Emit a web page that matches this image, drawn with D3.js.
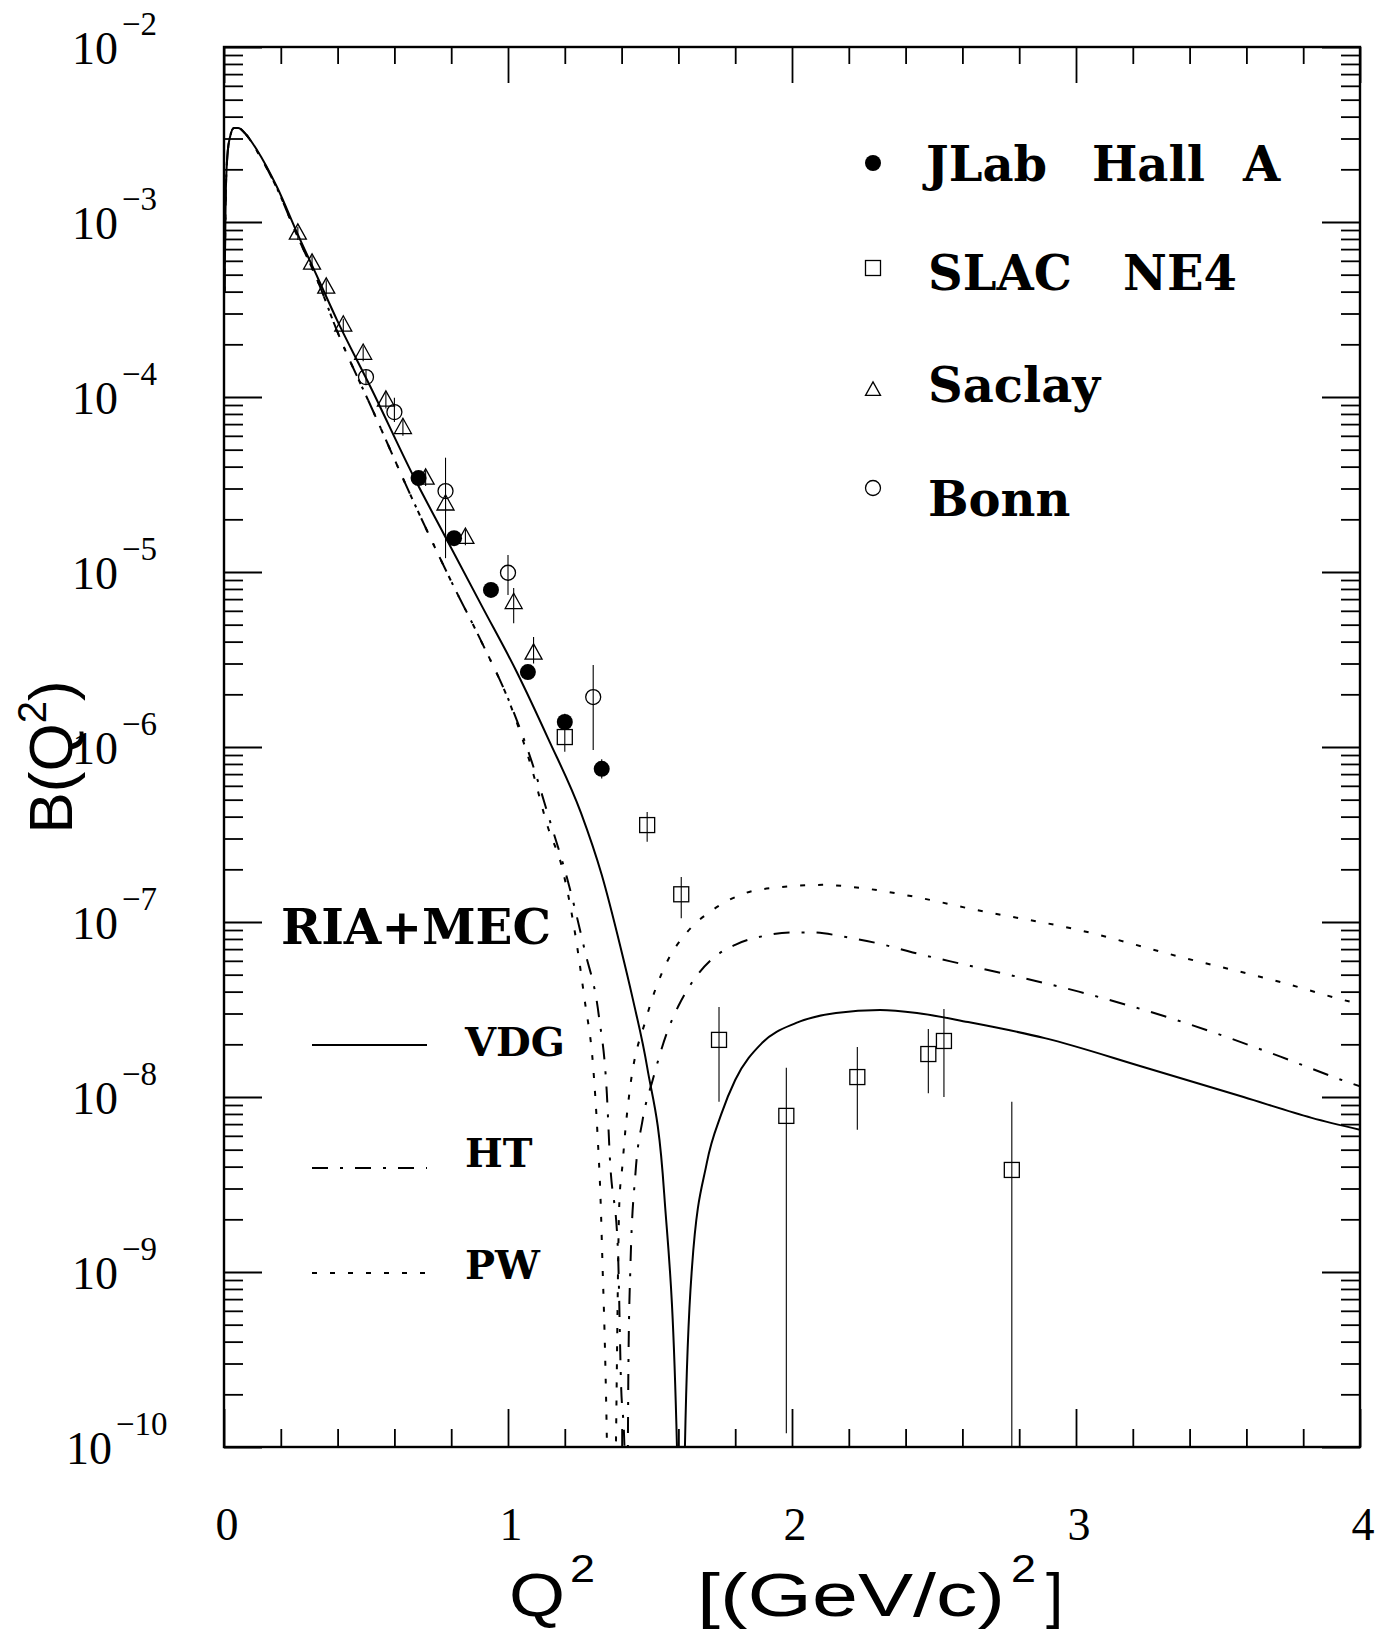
<!DOCTYPE html>
<html>
<head>
<meta charset="utf-8">
<script src="https://cdn.jsdelivr.net/npm/d3@7"></script>
<style>
  body { margin: 0; background: #fff; }
</style>
</head>
<body>
<div id="chart"></div>
<script>
// ---- data ----
const X_TICKS = [0, 1, 2, 3, 4];
const Y_EXPONENTS = [-2, -3, -4, -5, -6, -7, -8, -9, -10];

// JLab Hall A (filled circles)
const JLAB_Q2 = [0.685, 0.81, 0.94, 1.07, 1.20, 1.33];
const JLAB_B  = [3.44e-5, 1.56e-5, 7.9e-6, 2.68e-6, 1.39e-6, 7.5e-7];
const JLAB_LO = [3.2e-5, 1.45e-5, 7.3e-6, 2.45e-6, 1.25e-6, 6.6e-7];
const JLAB_HI = [3.7e-5, 1.68e-5, 8.5e-6, 2.95e-6, 1.55e-6, 8.5e-7];

// SLAC NE4 (open squares)
const SLAC_Q2 = [1.20, 1.49, 1.61, 1.743, 1.98, 2.23, 2.48, 2.535, 2.774];
const SLAC_B  = [1.14e-6, 3.58e-7, 1.44e-7, 2.12e-8, 7.8e-9, 1.30e-8, 1.76e-8, 2.09e-8, 3.83e-9];
const SLAC_LO = [9.4e-7, 2.87e-7, 1.05e-7, 9.4e-9, 1.2e-10, 6.5e-9, 1.05e-8, 1.0e-8, 5e-11];
const SLAC_HI = [1.29e-6, 4.25e-7, 1.81e-7, 3.27e-8, 1.47e-8, 1.93e-8, 2.45e-8, 3.18e-8, 9.4e-9];

// Saclay (open triangles)
const SACLAY_Q2 = [0.26, 0.31, 0.36, 0.42, 0.49, 0.57, 0.63, 0.71, 0.78, 0.85, 1.02, 1.09];
const SACLAY_B  = [8.65e-4, 5.83e-4, 4.25e-4, 2.58e-4, 1.78e-4, 9.6e-5, 6.7e-5, 3.44e-5, 2.45e-5, 1.58e-5, 6.7e-6, 3.44e-6];
const SACLAY_LO = [7.9e-4, 5.3e-4, 3.85e-4, 2.35e-4, 1.6e-4, 8.6e-5, 6.0e-5, 3.1e-5, 1.2e-5, 1.42e-5, 5.1e-6, 3.0e-6];
const SACLAY_HI = [9.4e-4, 6.4e-4, 4.65e-4, 2.8e-4, 1.95e-4, 1.06e-4, 7.4e-5, 3.8e-5, 2.7e-5, 1.75e-5, 8.1e-6, 4.25e-6];

// Bonn (open circles)
const BONN_Q2 = [0.50, 0.60, 0.78, 1.00, 1.30];
const BONN_B  = [1.30e-4, 8.2e-5, 2.9e-5, 9.9e-6, 1.93e-6];
const BONN_LO = [1.18e-4, 7.2e-5, 2.2e-5, 7.4e-6, 9.6e-7];
const BONN_HI = [1.43e-4, 9.9e-5, 4.5e-5, 1.25e-5, 2.94e-6];

// RIA+MEC curves
const VDG_Q2 = [0.002, 0.006, 0.012, 0.022, 0.035, 0.05, 0.075, 0.116, 0.187, 0.257, 0.33, 0.398, 0.516, 0.668, 0.78, 0.91, 1.03, 1.141, 1.257, 1.33, 1.396, 1.44, 1.49, 1.55, 1.595, 1.61, 1.623, 1.648, 1.70, 1.75, 1.80, 1.895, 2.015, 2.155, 2.31, 2.44, 2.62, 2.89, 3.24, 3.59, 3.83, 4.0];
const VDG_B  = [4e-4, 1.4e-3, 2.4e-3, 3.1e-3, 3.45e-3, 3.45e-3, 3.2e-3, 2.58e-3, 1.58e-3, 8.7e-4, 4.8e-4, 2.75e-4, 1.14e-4, 3.5e-5, 1.58e-5, 6.3e-6, 2.7e-6, 1.12e-6, 4.2e-7, 1.86e-7, 7.2e-8, 3.6e-8, 1.48e-8, 2.8e-9, 1.0e-10, 1e-12, 1.0e-10, 1.07e-9, 4.2e-9, 7.9e-9, 1.25e-8, 2.04e-8, 2.65e-8, 3.02e-8, 3.14e-8, 3.02e-8, 2.68e-8, 2.17e-8, 1.48e-8, 1.0e-8, 7.6e-9, 6.5e-9];

const HT_Q2 = [0.002, 0.006, 0.012, 0.022, 0.035, 0.05, 0.075, 0.116, 0.187, 0.257, 0.33, 0.397, 0.528, 0.66, 0.81, 0.90, 1.02, 1.083, 1.143, 1.213, 1.27, 1.32, 1.348, 1.359, 1.387, 1.398, 1.41, 1.415, 1.424, 1.431, 1.449, 1.474, 1.51, 1.558, 1.60, 1.65, 1.72, 1.80, 1.90, 2.0, 2.073, 2.19, 2.31, 2.425, 2.63, 3.01, 3.37, 3.72, 3.93, 4.0];
const HT_B  = [4e-4, 1.4e-3, 2.4e-3, 3.1e-3, 3.45e-3, 3.45e-3, 3.2e-3, 2.55e-3, 1.55e-3, 8.4e-4, 4.6e-4, 2.41e-4, 8.1e-5, 2.68e-5, 8.2e-6, 4.2e-6, 1.58e-6, 8.3e-7, 4.0e-7, 1.66e-7, 6.9e-8, 2.9e-8, 1.05e-8, 4.4e-9, 1.34e-9, 2.3e-10, 1e-10, 1e-12, 2.9e-10, 1.07e-9, 3.7e-9, 7.4e-9, 1.26e-8, 2.29e-8, 3.31e-8, 4.57e-8, 6.17e-8, 7.41e-8, 8.32e-8, 8.71e-8, 8.71e-8, 8.2e-8, 7.5e-8, 6.7e-8, 5.6e-8, 4.0e-8, 2.7e-8, 1.7e-8, 1.26e-8, 1.15e-8];

const PW_Q2 = [0.002, 0.006, 0.012, 0.022, 0.035, 0.05, 0.075, 0.116, 0.187, 0.257, 0.33, 0.397, 0.528, 0.66, 0.81, 0.90, 1.02, 1.083, 1.14, 1.19, 1.236, 1.27, 1.30, 1.315, 1.326, 1.333, 1.34, 1.347, 1.365, 1.38, 1.392, 1.403, 1.414, 1.428, 1.488, 1.558, 1.628, 1.72, 1.84, 1.956, 2.107, 2.25, 2.425, 2.65, 3.01, 3.37, 3.72, 3.97, 4.0];
const PW_B  = [4e-4, 1.4e-3, 2.4e-3, 3.1e-3, 3.45e-3, 3.45e-3, 3.2e-3, 2.55e-3, 1.55e-3, 8.4e-4, 4.6e-4, 2.41e-4, 8.1e-5, 2.68e-5, 8.2e-6, 4.2e-6, 1.55e-6, 7.6e-7, 3.5e-7, 2.06e-7, 8.65e-8, 3.58e-8, 1.48e-8, 6.2e-9, 2.58e-9, 1.07e-9, 4.5e-10, 1.4e-10, 1e-12, 1e-10, 2.48e-9, 4.08e-9, 6.65e-9, 1.07e-8, 2.86e-8, 5.83e-8, 8.65e-8, 1.17e-7, 1.47e-7, 1.58e-7, 1.63e-7, 1.56e-7, 1.40e-7, 1.17e-7, 9.0e-8, 6.3e-8, 4.54e-8, 3.49e-8, 3.4e-8];

// ---- layout ----
const W = 1376, H = 1631;
const LEFT = 224, RIGHT = 1360, TOP = 47, BOTTOM = 1447;

const svg = d3.select("#chart").append("svg")
    .attr("width", W)
    .attr("height", H)
    .style("background", "#fff");

const x = d3.scaleLinear().domain([0, 4]).range([LEFT, RIGHT]);
const y = d3.scaleLog().domain([1e-10, 1e-2]).range([BOTTOM, TOP]);

svg.append("defs").append("clipPath").attr("id", "plot")
    .append("rect")
    .attr("x", LEFT).attr("y", TOP)
    .attr("width", RIGHT - LEFT).attr("height", BOTTOM - TOP);

// ---- ticks ----
const majorY = Y_EXPONENTS.map(e => Math.pow(10, e));
const minorY = [];
for (let e = -10; e < -2; e++) {
    for (let k = 2; k <= 9; k++) minorY.push(k * Math.pow(10, e));
}
const majorX = X_TICKS;
const minorX = d3.range(0, 4.001, 0.2).filter(v => Math.abs(v - Math.round(v)) > 1e-6);

function tickAxis(axis, values, size, transform) {
    svg.append("g")
        .attr("transform", transform)
        .call(axis.tickValues(values).tickSize(size).tickSizeOuter(0).tickFormat(""))
        .call(g => g.select(".domain").remove())
        .call(g => g.selectAll(".tick line").attr("stroke", "#000").attr("stroke-width", 1.8));
}
tickAxis(d3.axisLeft(y), majorY, -38, `translate(${LEFT},0)`);
tickAxis(d3.axisLeft(y), minorY, -19, `translate(${LEFT},0)`);
tickAxis(d3.axisRight(y), majorY, -38, `translate(${RIGHT},0)`);
tickAxis(d3.axisRight(y), minorY, -19, `translate(${RIGHT},0)`);
tickAxis(d3.axisBottom(x), majorX, -38, `translate(0,${BOTTOM})`);
tickAxis(d3.axisBottom(x), minorX, -18, `translate(0,${BOTTOM})`);
tickAxis(d3.axisTop(x), majorX, -36, `translate(0,${TOP})`);
tickAxis(d3.axisTop(x), minorX, -17, `translate(0,${TOP})`);

// frame
svg.append("rect")
    .attr("x", LEFT).attr("y", TOP)
    .attr("width", RIGHT - LEFT).attr("height", BOTTOM - TOP)
    .attr("fill", "none").attr("stroke", "#000").attr("stroke-width", 2.4);

// ---- tick labels ----
const serif = "'Liberation Serif', 'Times New Roman', serif";
const ylab = svg.append("g").style("font-family", serif).attr("fill", "#000");
Y_EXPONENTS.forEach(e => {
    const v = Math.pow(10, e);
    const x0 = e <= -10 ? 66 : 72;
    ylab.append("text")
        .attr("x", x0).attr("y", y(v) + 17)
        .style("font-size", "46px")
        .text("10");
    ylab.append("text")
        .attr("x", x0 + 50).attr("y", y(v) - 12)
        .style("font-size", "33px")
        .text("\u2212" + (-e));
});

svg.append("g").style("font-family", serif)
    .selectAll("text").data(X_TICKS).join("text")
    .attr("x", d => x(d) + 3)
    .attr("y", 1540)
    .attr("text-anchor", "middle")
    .style("font-size", "46px")
    .text(d => d);

// ---- axis titles ----
const sans = "'Liberation Sans', Arial, Helvetica, sans-serif";
const yt = svg.append("text")
    .attr("transform", "translate(72,757) rotate(-90)")
    .attr("text-anchor", "middle")
    .style("font-family", sans)
    .style("font-size", "62px");
yt.append("tspan").text("B(Q");
yt.append("tspan").attr("dy", -26).style("font-size", "40px").text("2");
yt.append("tspan").attr("dy", 26).text(")");

// the printed title is a wide sans; stretch glyphs to the measured widths
const xt = svg.append("g").style("font-family", sans);
xt.append("text").attr("x", 509).attr("y", 1616).style("font-size", "62px")
    .attr("textLength", 56).attr("lengthAdjust", "spacingAndGlyphs").text("Q");
xt.append("text").attr("x", 570).attr("y", 1582).style("font-size", "38px")
    .attr("textLength", 25).attr("lengthAdjust", "spacingAndGlyphs").text("2");
xt.append("text").attr("x", 697).attr("y", 1616).style("font-size", "62px")
    .attr("textLength", 308).attr("lengthAdjust", "spacingAndGlyphs").text("[(GeV/c)");
xt.append("text").attr("x", 1011).attr("y", 1582).style("font-size", "38px")
    .attr("textLength", 25).attr("lengthAdjust", "spacingAndGlyphs").text("2");
xt.append("text").attr("x", 1046).attr("y", 1616).style("font-size", "62px").text("]");

// ---- curves ----
const curves = [
    { q: VDG_Q2, b: VDG_B, dash: null },
    { q: HT_Q2, b: HT_B, dash: "16,12,3,12" },
    { q: PW_Q2, b: PW_B, dash: "5,13" }
];
const line = d3.line()
    .x(d => x(d[0]))
    .y(d => y(d[1]))
    .curve(d3.curveMonotoneX);

const plot = svg.append("g").attr("clip-path", "url(#plot)");
curves.forEach(c => {
    plot.append("path")
        .datum(c.q.map((q, i) => [q, c.b[i]]))
        .attr("d", line)
        .attr("fill", "none")
        .attr("stroke", "#000")
        .attr("stroke-width", 2)
        .attr("stroke-dasharray", c.dash);
});

// ---- data points ----
function rows(q, b, lo, hi) {
    return q.map((v, i) => ({ q: v, b: b[i], lo: lo[i], hi: hi[i] }));
}
const sets = [
    { data: rows(SACLAY_Q2, SACLAY_B, SACLAY_LO, SACLAY_HI), shape: "tri" },
    { data: rows(BONN_Q2, BONN_B, BONN_LO, BONN_HI), shape: "circle" },
    { data: rows(SLAC_Q2, SLAC_B, SLAC_LO, SLAC_HI), shape: "square" },
    { data: rows(JLAB_Q2, JLAB_B, JLAB_LO, JLAB_HI), shape: "dot" }
];

function drawMarker(g, shape, cx, cy, s) {
    if (shape === "dot") {
        g.append("circle").attr("cx", cx).attr("cy", cy).attr("r", s * 0.5)
            .attr("fill", "#000");
    } else if (shape === "circle") {
        g.append("circle").attr("cx", cx).attr("cy", cy).attr("r", s * 0.5)
            .attr("fill", "none").attr("stroke", "#000").attr("stroke-width", 1.3);
    } else if (shape === "square") {
        g.append("rect").attr("x", cx - s / 2).attr("y", cy - s / 2)
            .attr("width", s).attr("height", s)
            .attr("fill", "none").attr("stroke", "#000").attr("stroke-width", 1.3);
    } else {
        const h = s * 0.9;
        g.append("path")
            .attr("d", `M${cx},${cy - h * 0.6}L${cx + s / 2},${cy + h * 0.4}L${cx - s / 2},${cy + h * 0.4}Z`)
            .attr("fill", "none").attr("stroke", "#000").attr("stroke-width", 1.3);
    }
}

sets.forEach(set => {
    const g = plot.append("g");
    g.selectAll("line.err").data(set.data).join("line")
        .attr("class", "err")
        .attr("x1", d => x(d.q)).attr("x2", d => x(d.q))
        .attr("y1", d => y(d.hi)).attr("y2", d => y(d.lo))
        .attr("stroke", "#000").attr("stroke-width", 1.1);
    set.data.forEach(d => {
        const size = set.shape === "dot" ? 16 : (set.shape === "tri" ? 17 : 15);
        drawMarker(g, set.shape, x(d.q), y(d.b), size);
    });
});

// ---- legend: experiments ----
const bold = "'DejaVu Serif', 'Liberation Serif', serif";
const LEG_EXP = [
    { shape: "dot", y: 163, base: 181, words: [["JLab", 926], ["Hall", 1092], ["A", 1243]] },
    { shape: "square", y: 268, base: 290, words: [["SLAC", 928], ["NE4", 1123]] },
    { shape: "tri", y: 390, base: 402, words: [["Saclay", 928]] },
    { shape: "circle", y: 488, base: 516, words: [["Bonn", 928]] }
];
const leg = svg.append("g");
LEG_EXP.forEach(it => {
    drawMarker(leg, it.shape, 873, it.y, it.shape === "dot" ? 16 : 15);
    it.words.forEach(w => {
        leg.append("text")
            .attr("x", w[1]).attr("y", it.base)
            .style("font-family", bold).style("font-weight", "bold")
            .style("font-size", "48px")
            .text(w[0]);
    });
});

// ---- legend: models ----
const leg2 = svg.append("g").style("font-family", bold).style("font-weight", "bold");
leg2.append("text").attr("x", 281).attr("y", 944)
    .style("font-size", "48px")
    .attr("textLength", 270).attr("lengthAdjust", "spacingAndGlyphs")
    .text("RIA+MEC");
const LEG_MODELS = [
    { name: "VDG", y: 1045, base: 1056, dash: null },
    { name: "HT", y: 1168, base: 1167, dash: "16,12,3,12" },
    { name: "PW", y: 1273, base: 1279, dash: "5,13" }
];
LEG_MODELS.forEach(m => {
    leg2.append("line")
        .attr("x1", 312).attr("x2", 427)
        .attr("y1", m.y).attr("y2", m.y)
        .attr("stroke", "#000").attr("stroke-width", 1.8)
        .attr("stroke-dasharray", m.dash);
    leg2.append("text")
        .attr("x", 465).attr("y", m.base)
        .style("font-size", "40px")
        .text(m.name);
});
</script>
</body>
</html>
